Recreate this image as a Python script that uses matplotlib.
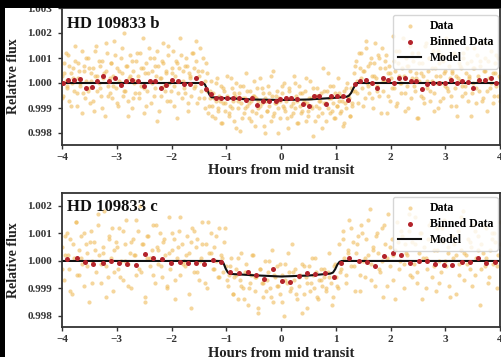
# HD 109833 b / c phase-folded transit light curves (two stacked panels)

import matplotlib
matplotlib.use("Agg")
import matplotlib.pyplot as plt
import numpy as np
from matplotlib.patches import Rectangle

plt.rcParams["font.family"] = ["Liberation Serif", "DejaVu Serif"]
plt.rcParams["font.weight"] = "bold"

# ---- planet b ----
# raw flux from two visits, units of 1e-4 relative to 1 (each evenly sampled over -4..4 h)
raw_b = [
    3, -5, 8, 1, -2, 11, -7, 4, 0, 6, -3, 9, -9, 2, 5, -1, 13, -4, 7, -6,
    1, 10, -2, -8, 4, 6, -11, 3, 15, -3, 0, 7, -5, 9, 2, -13, 5, 12, -1, -4,
    8, -6, 3, 17, -2, 6, -9, 1, 10, 4, -5, 20, -3, 7, -7, 2, 11, -10, 5, 0,
    -4, 9, 3, -6, 12, -1, 6, -12, 4, 8, -3, 14, 1, -8, 5, 10, -2, 3, -15, 7,
    2, -5, 9, 16, -1, 4, -7, 11, 0, -3, 6, 13, -9, 3, 8, -4, 1, 18, -6, 5,
    -2, 7, 10, -11, 4, 2, -5, 12, 6, -1, 9, -8, 3, 14, -3, 5, -6, 1, 8,
    -3, -12, -6, 1, -9, -4, -14, -7, 2, -10, -5, -1, -16, -8, -3, -11, 3, -6, -13, -9,
    -2, -7, -15, -5, 0, -10, -4, -19, -8, -1, -12, -6, 4, -9, -14, -3, -7, -11, -5, -17,
    -6, -2, -10, 2, -13, -8, -4, -20, -7, -11, -1, -9, -15, -5, 5, -12, -8, -3, -10, -6,
    -14, -4, -9, 0, -11, -7, -18, -2, -6, -13, -8, 3, -10, -5, -16, -1, -9, -12, -4, -7,
    -3, -15, -8, -11, 1, -6, -10, -21, -5, -9, -2, -13, -7, -4, -12, 6, -8, -15, -3, -10,
    -6, -1, -11, -8, -14, -4, -9, 2, -7, -12, -5, -17, -3, -8, -10, 0, -6, -13, -2, -9,
    4, -3, 9, 1, -8, 6, 12, -2, 5, -6, 17, 0, 7, -4, 10, 3, -10, 8, 2, -1,
    11, -5, 6, 14, -3, 1, 9, -12, 4, 7, -7, 2, 19, -2, 5, -9, 8, 13, 0, -4,
    6, 3, -11, 10, -1, 7, 15, -6, 2, 9, -3, 4, -14, 12, 1, -5, 8, 3, -8, 16,
    -2, 5, 10, -7, 1, 13, -4, 6, 0, -10, 8, 3, 11, -6, 4, -1, 18, -3, 7, 2,
    -9, 5, 12, -2, 3, -13, 8, 1, 6, -5, 10, -1, 4, 14, -7, 2, 9, -4, 0, 6,
    -8, 11, 3, -3, 7, 16, -6, 1, 5, -11, 9, 2, -2, 13, 4, -5, 8, -1, 10, 3, -7,
]
raw_b2 = [
    -6, 4, 12, -1, 7, -9, 2, 15, -4, 8, 0, -12, 5, 10, -3, 6, 1, -7, 13, 3,
    9, -2, -10, 4, 16, -5, 2, 8, -1, 11, -8, 5, 0, 14, -3, 7, -13, 3, 9, -6,
    1, 12, -4, 6, 18, -2, -9, 4, 10, 0, -5, 7, 13, -11, 2, 8, -3, 5, 15, -7,
    4, -1, 9, -14, 6, 11, 1, -4, 7, -8, 3, 12, -2, 17, 5, -6, 0, 10, -10, 4,
    -9, -3, -13, -6, 0, -11, -7, -16, -2, -8, -5, -12, 2, -10, -4, -18, -7, -1, -14, -6,
    -10, -3, -8, -15, -5, 1, -12, -7, -9, -2, -17, -6, -11, -4, 3, -13, -8, -5, -20, -7,
    -1, -10, -6, -14, -3, -9, -12, 0, -7, -16, -4, -11, -8, 2, -13, -6, -9, -2, -15, -5,
    -10, -7, -18, -3, -8, 4, -12, -6, -1, -14, -9, -4, -11, -7, -16, -2, -5, -13, -8, -3,
    7, -4, 12, 2, -9, 5, 14, -1, 8, -6, 3, 16, -3, 10, -12, 1, 6, 11, -5, 4,
    -2, 9, 13, -8, 3, 0, 18, -4, 7, -10, 5, 12, -1, 2, -14, 8, 4, -6, 15, 1,
    10, -3, 6, -11, 3, 13, -7, 0, 9, 5, -2, 17, -5, 4, 11, -9, 2, 7, -1, 12,
    -4, 8, 3, -13, 6, 14, -2, 1, 9, -7, 5, 10, -3, 16, 0, -8, 4, 11, -5, 2,
]

# binned data: hours, ppm
bin_t_b = [-3.98, -3.89, -3.78, -3.67, -3.56, -3.46, -3.36, -3.25, -3.14, -3.04,
           -2.93, -2.84, -2.72, -2.61, -2.51, -2.40, -2.30, -2.19, -2.10, -1.99,
           -1.89, -1.78, -1.67, -1.56, -1.46, -1.37, -1.28, -1.19, -1.09, -0.98,
           -0.87, -0.76, -0.64, -0.53, -0.43, -0.33, -0.22, -0.10, -0.01, 0.09,
           0.19, 0.30, 0.40, 0.51, 0.60, 0.70, 0.83, 0.92, 1.03, 1.13,
           1.23, 1.35, 1.45, 1.55, 1.66, 1.75, 1.86, 1.96, 2.06, 2.16,
           2.27, 2.37, 2.46, 2.57, 2.67, 2.78, 2.89, 2.99, 3.10, 3.21,
           3.31, 3.41, 3.51, 3.61, 3.72, 3.83, 3.93]
bin_f_b = [0, 107, 107, 173, -200, -173, 93, 293, 67, 200,
           -67, 67, 133, 67, -133, 67, 67, -200, -93, 133,
           67, -40, -40, 200, 0, -250, -440, -600, -600, -600,
           -600, -600, -667, -600, -867, -733, -733, -733, -653, -587,
           -587, -653, -827, -920, -520, -520, -853, -520, -520, -520,
           -680, -53, 80, 107, 13, -187, 187, 107, -13, 213,
           213, 80, 80, -253, -27, 13, -13, -13, 120, 13,
           80, 53, -213, 120, 120, 213, 13]

model_t_b = [-4, -1.43, -1.39, -1.35, -1.31, -1.27, -1.0, -0.5, 0.0, 0.5,
             1.0, 1.20, 1.24, 1.28, 1.32, 1.36, 1.39, 4]
model_f_b = [0, 0, -60, -250, -460, -570, -610, -660, -680, -660,
             -590, -550, -510, -400, -220, -70, 0, 0]

# ---- planet c ----
raw_c = [
    5, -7, 2, 10, -3, 8, -12, 1, 14, -5, 4, 9, -1, -9, 6, 3, -15, 11, 0, 7,
    -4, 13, 2, -8, 5, 18, -2, -6, 9, 1, -11, 4, 7, -3, 12, 0, -7, 6, 15, -1,
    3, -10, 8, 2, -5, 11, 20, -4, 6, -13, 1, 9, -2, 4, 13, -8, 5, -1, 10, -6,
    7, 2, -9, 16, -3, 4, 8, -14, 1, 11, -5, 6, 0, -2, 9, 3, -17, 12, -4, 5,
    8, -7, 1, 14, -1, 6, -10, 3, 10, -3, 5, 0, -6, 12, 2, -4, 7,
    -2, -9, -5, 1, -12, -6, -3, -14, -7, 3, -10, -4, -1, -16, -8, -5, 2, -11, -6, -19,
    -3, -8, -13, 0, -7, -4, -10, 4, -15, -6, -2, -9, -12, -5, -20, -1, -8, -4, -11, 6,
    -7, -3, -14, -9, -5, -1, -12, -6, -17, -2, -8, 1, -10, -4, -13, -7, -3, -9, -6, -11,
    -4, 3, -8, -13, -2, -6, -10,
    6, -3, 11, 1, -8, 4, 15, -2, 7, -11, 3, 9, -5, 13, 0, -6, 8, 2, 19, -1,
    5, -9, 10, 3, -4, 12, -13, 6, 1, 17, -2, 8, -7, 4, 14, -3, 0, 9, -10, 6,
    2, 11, -5, 7, -1, 16, -8, 3, 10, -14, 5, 1, -3, 13, 8, -6, 4, -11, 12, 0,
    -4, 7, 15, -2, 3, -9, 9, 1, 6, -12, 11, -1, 4, 18, -7, 2, 8, -3, 5, 13,
    -5, 1, 9, -16, 6, 3, -2, 12, -8, 4, 10, -1, 7, -10, 2, 14,
]
raw_c2 = [
    -3, 9, 2, -11, 6, 14, -5, 1, 10, -2, 7, -8, 4, 17, -1, 3, -13, 8, 12, -4,
    5, -6, 11, 0, -9, 7, 2, 15, -3, 6, -15, 9, 1, -5, 13, 4, -2, 8, -10, 3,
    10, -7, 5, 16, -1, 2, -12, 7, 11, -4, 0, 6, -8, 14, 3, -3, 9, -6, 1, 12,
    -7, -2, -12, -5, 1, -9, -14, -4, -10, 2, -6, -17, -3, -8, -11, 0, -13, -5, -9, -1,
    -15, -7, 3, -10, -4, -12, -6, -19, -2, -8, -11, -5, 1, -14, -7, -3, -10, -6, -16, -1,
    -9, -4,
    8, -5, 3, 12, -2, 6, -11, 10, 1, 15, -7, 4, 9, -3, 0, 13, -9, 5, 2, -14,
    7, 11, -1, 3, 17, -6, 6, -4, 10, 1, -10, 8, 14, -2, 4, -8, 12, 0, 5, -13,
    9, 2, -5, 16, 3, -1, 7, -9, 11, 4, -3, 13, 1, -6, 8, 10, -2, 6,
]

bin_t_c = [-3.90, -3.73, -3.58, -3.43, -3.26, -3.11, -2.96, -2.81, -2.64, -2.49,
           -2.33, -2.18, -2.01, -1.85, -1.70, -1.55, -1.40, -1.25, -1.10, -0.93,
           -0.76, -0.61, -0.46, -0.31, -0.15, 0.01, 0.16, 0.32, 0.48, 0.63,
           0.80, 0.96, 1.10, 1.25, 1.42, 1.57, 1.72, 1.89, 2.04, 2.19,
           2.36, 2.52, 2.66, 2.82, 2.98, 3.13, 3.30, 3.45, 3.60, 3.75, 3.90]
bin_f_c = [85, 121, -36, -121, -73, 0, -73, -97, -158, 242,
           121, 85, -60, -36, -73, -73, -97, 24, -30, -400,
           -436, -400, -497, -667, -303, -715, -751, -533, -448, -485,
           -448, -570, -85, 97, 12, -24, -182, 182, 279, 218,
           -61, 12, 12, -109, -145, -145, -24, -24, 121, -61, -48]

model_t_c = [-4, -1.09, -1.05, -1.01, -0.97, -0.93, -0.5, 0.0, 0.5, 0.9,
             0.95, 0.99, 1.03, 1.07, 1.11, 4]
model_f_c = [0, 0, -80, -280, -420, -470, -520, -565, -530, -460,
             -420, -300, -130, -30, 0, 0]

panels = [
    ("HD 109833 b", [raw_b, raw_b2], bin_t_b, bin_f_b, model_t_b, model_f_b,
     (0.99752, 1.00302), [0.998, 0.999, 1.000, 1.001, 1.002, 1.003]),
    ("HD 109833 c", [raw_c, raw_c2], bin_t_c, bin_f_c, model_t_c, model_f_c,
     (0.9976, 1.00247), [0.998, 0.999, 1.000, 1.001, 1.002]),
]

W, H = 501, 357
fig = plt.figure(figsize=(W / 100, H / 100), dpi=100, facecolor="black")
# white slide area and black strip on top (screenshot crop)
fig.add_artist(Rectangle((5 / W, 0), 1 - 5 / W, (H - 8) / H, transform=fig.transFigure,
                         facecolor="white", edgecolor="none", zorder=-5))
fig.add_artist(Rectangle((0, (H - 8) / H), 1, 8 / H, transform=fig.transFigure,
                         facecolor="black", edgecolor="none", zorder=10))

# axes boxes in pixels: (left, top, right, bottom)
boxes = [(62, 7.5, 500, 145), (62, 193, 500, 327)]
title_y = [0.851, 0.868]
leg_top = [0.945, 0.97]
xlab_y = [-0.138, -0.149]

for i, (name, visits, bt, bf, mt, mf, ylim, yt) in enumerate(panels):
    l, t, r, b = boxes[i]
    ax = fig.add_axes([l / W, (H - b) / H, (r - l) / W, (b - t) / H])

    times = np.concatenate([np.linspace(-4, 4, len(v)) for v in visits])
    flux = 1 + np.concatenate([np.array(v) for v in visits]) * 1e-4
    ax.scatter(times, flux, s=9, color="#efbc5a", alpha=0.6, linewidths=0,
               label="Data", zorder=1)
    ax.plot(mt, 1 + np.array(mf) * 1e-6, color="#111111", lw=1.5, label="Model", zorder=2)
    ax.scatter(bt, 1 + np.array(bf) * 1e-6, s=13, color="#b3232b", linewidths=0,
               label="Binned Data", zorder=3)

    ax.set_xlim(-4, 4)
    ax.set_ylim(*ylim)
    ax.set_yticks(yt)
    ax.set_yticklabels([f"{v:.3f}" for v in yt])
    ax.set_xticks([-4, -3, -2, -1, 0, 1, 2, 3, 4])
    ax.tick_params(axis="both", labelsize=8, colors="#333333", length=3, width=1)
    ax.tick_params(axis="y", pad=4)
    ax.tick_params(axis="x", pad=3)
    for sp in ax.spines.values():
        sp.set_color("#333333")
        sp.set_linewidth(1.3)

    ax.text(0.011, title_y[i], name, transform=ax.transAxes, fontsize=12,
            fontweight="bold", va="baseline", ha="left", color="#111111")

    ax.set_ylabel("Relative flux", fontsize=10, fontweight="bold", color="#222222")
    ax.yaxis.set_label_coords(-0.096, 0.5)
    ax.set_xlabel("Hours from mid transit", fontsize=10.5, fontweight="bold", color="#222222")
    ax.xaxis.set_label_coords(0.5, xlab_y[i])

    h, lab = ax.get_legend_handles_labels()
    order = [lab.index("Data"), lab.index("Binned Data"), lab.index("Model")]
    leg = ax.legend([h[k] for k in order], [lab[k] for k in order],
                    loc="upper right", bbox_to_anchor=(0.995, leg_top[i]),
                    borderaxespad=0, fontsize=8.5, labelspacing=0.35,
                    handlelength=2.0, handletextpad=0.7, frameon=True)
    leg.get_frame().set_edgecolor("#cccccc")
    for txt in leg.get_texts():
        txt.set_fontweight("bold")

fig.savefig("out.png", dpi=100, facecolor=fig.get_facecolor())
